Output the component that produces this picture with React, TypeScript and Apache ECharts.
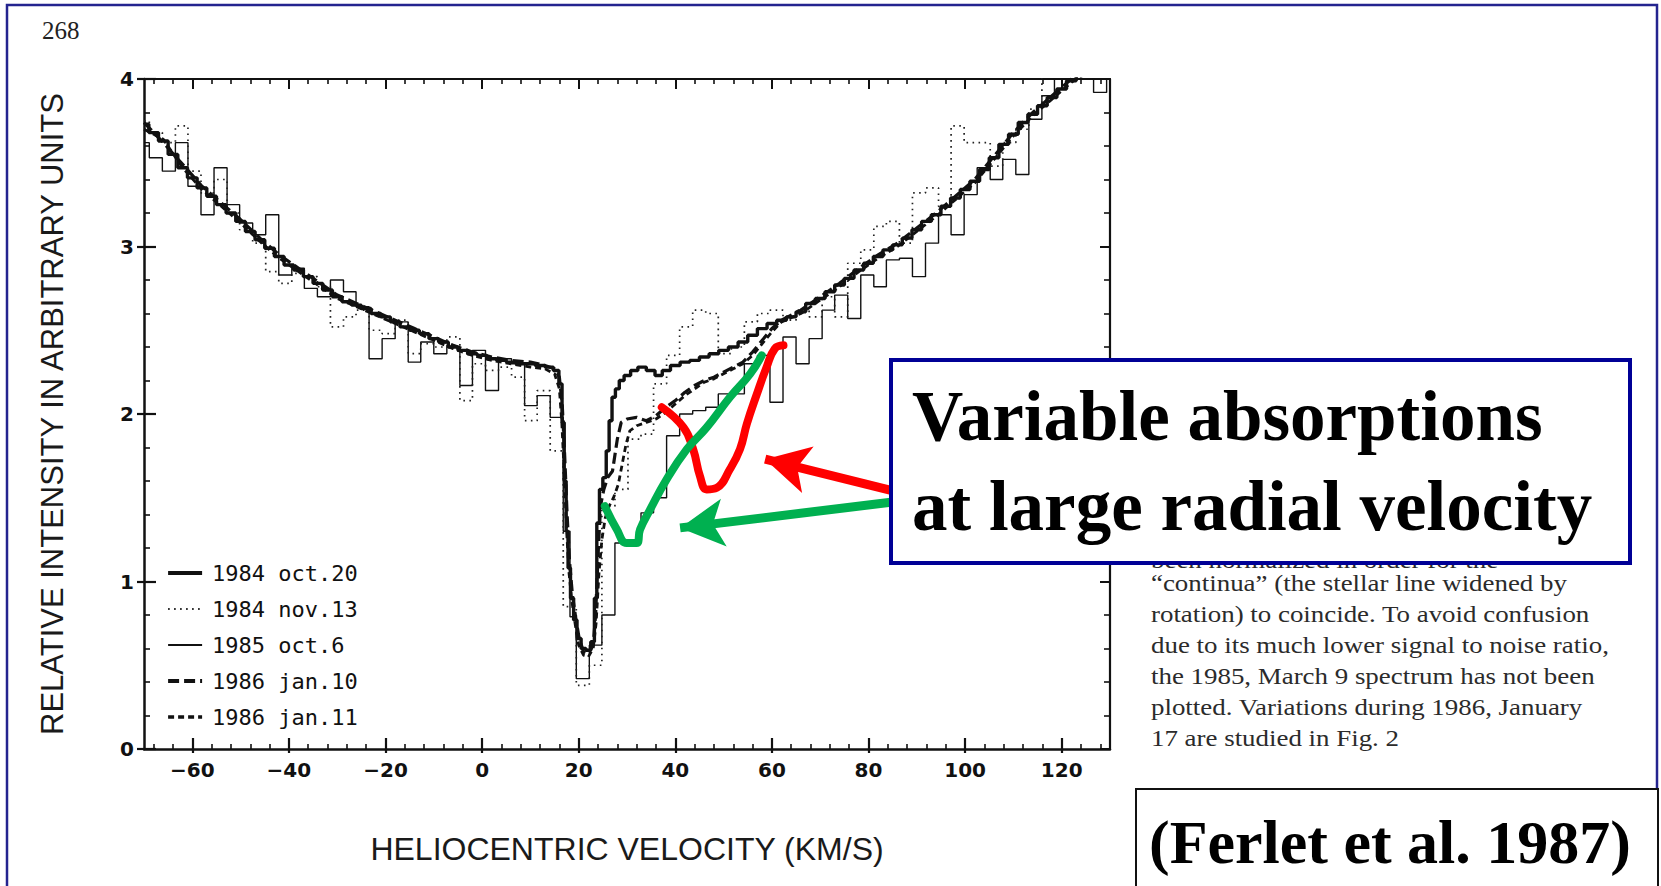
import React, { useEffect, useRef } from 'react';
import * as echarts from 'echarts';

// ---- axis ticks ----
const xMajorTicks = [-60, -40, -20, 0, 20, 40, 60, 80, 100, 120];
const xMinorTicks = [-68, -64, -60, -56, -52, -48, -44, -40, -36, -32, -28, -24, -20, -16, -12, -8, -4, 0, 4, 8, 12, 16, 20, 24, 28, 32, 36, 40, 44, 48, 52, 56, 60, 64, 68, 72, 76, 80, 84, 88, 92, 96, 100, 104, 108, 112, 116, 120, 124, 128];

// ---- spectra: [heliocentric velocity km/s, relative intensity] ----
const oct20_1984: [number, number][] = [
  [-70, 3.73], [-68, 3.68], [-66, 3.63], [-64, 3.55], [-62, 3.47], [-60, 3.41], [-58, 3.35], [-56, 3.30], [-54, 3.25], [-52, 3.20],
  [-50, 3.15], [-48, 3.09], [-46, 3.04], [-44, 2.99], [-42, 2.94], [-40, 2.89], [-38, 2.86], [-36, 2.82], [-34, 2.78], [-32, 2.74],
  [-30, 2.70], [-28, 2.67], [-26, 2.65], [-24, 2.63], [-22, 2.60], [-20, 2.58], [-18, 2.55], [-16, 2.52], [-14, 2.50], [-12, 2.48],
  [-10, 2.45], [-8, 2.43], [-6, 2.40], [-4, 2.38], [-2, 2.36], [0, 2.35], [2, 2.33], [4, 2.32], [6, 2.31], [8, 2.30],
  [10, 2.30], [12, 2.29], [14, 2.28], [15.5, 2.26], [16.3, 2.18], [16.8, 1.95], [17.2, 1.60], [17.6, 1.30], [18.0, 1.08], [18.6, 0.90],
  [19.3, 0.77], [20.0, 0.66], [21, 0.60], [22, 0.59], [23, 0.64], [23.5, 0.90], [24.0, 1.35], [24.6, 1.55], [25.4, 1.62], [26.0, 1.78],
  [26.6, 1.96], [27.2, 2.10], [28, 2.15], [28.8, 2.20], [30, 2.23], [31.5, 2.26], [33, 2.28], [35, 2.26], [36.6, 2.23], [38, 2.26],
  [40, 2.29], [42, 2.31], [44, 2.32], [46, 2.34], [48, 2.36], [50, 2.38], [52, 2.40], [54, 2.43], [56, 2.47], [58, 2.51],
  [60, 2.54], [62, 2.56], [64, 2.58], [66, 2.61], [68, 2.66], [70, 2.69], [72, 2.73], [74, 2.77], [76, 2.81], [78, 2.86],
  [80, 2.90], [82, 2.94], [84, 2.98], [86, 3.01], [88, 3.05], [90, 3.10], [92, 3.15], [94, 3.19], [96, 3.24], [98, 3.29],
  [100, 3.34], [102, 3.39], [104, 3.46], [106, 3.53], [108, 3.61], [110, 3.67], [112, 3.74], [114, 3.79], [116, 3.84], [118, 3.89],
  [120, 3.94], [122, 3.99], [124, 4.03], [126, 4.06],
];

const nov13_1984: [number, number][] = [
  [-70, 3.75], [-68.9, 3.68], [-66.2, 3.62], [-63.5, 3.72], [-60.9, 3.45], [-58.2, 3.32], [-55.5, 3.40], [-52.8, 3.20], [-50.2, 3.10], [-47.5, 3.02],
  [-44.8, 2.85], [-42.1, 2.78], [-39.4, 2.84], [-36.8, 2.82], [-34.1, 2.76], [-31.4, 2.52], [-28.7, 2.58], [-26.1, 2.62], [-23.4, 2.50], [-20.7, 2.48],
  [-18.0, 2.56], [-15.3, 2.36], [-12.7, 2.42], [-10.0, 2.40], [-7.3, 2.46], [-4.6, 2.08], [-2.0, 2.30], [0.7, 2.26], [3.4, 2.28], [6.1, 2.22],
  [8.8, 1.96], [11.4, 2.14], [14.1, 1.78], [16.8, 0.85], [19.5, 0.38], [22.2, 0.50], [24.8, 1.45], [27.5, 1.55], [30.2, 1.85], [32.9, 1.88],
  [35.5, 2.18], [38.2, 2.35], [40.9, 2.52], [43.6, 2.62], [46.3, 2.60], [48.9, 2.36], [51.6, 2.40], [54.3, 2.55], [57.0, 2.60], [59.6, 2.62],
  [62.3, 2.56], [65.0, 2.62], [67.7, 2.58], [70.4, 2.70], [73.0, 2.58], [75.7, 2.90], [78.4, 2.98], [81.1, 3.12], [83.7, 3.15], [86.4, 3.02],
  [89.1, 3.32], [91.8, 3.35], [94.5, 3.24], [97.1, 3.72], [99.8, 3.62], [102.5, 3.62], [105.2, 3.48], [107.8, 3.62], [110.5, 3.70], [113.2, 3.82],
  [115.9, 4.05], [118.5, 4.05], [121.2, 4.05], [123.9, 4.05], [126.6, 4.05], [129.3, 4.05], [130, 4.05],
];

const oct6_1985: [number, number][] = [
  [-70, 3.62], [-68.9, 3.53], [-66.2, 3.45], [-63.5, 3.62], [-60.9, 3.36], [-58.2, 3.19], [-55.5, 3.47], [-52.8, 3.25], [-50.2, 3.14], [-47.5, 3.07],
  [-44.8, 3.19], [-42.1, 2.83], [-39.4, 2.87], [-36.8, 2.75], [-34.1, 2.70], [-31.4, 2.80], [-28.7, 2.73], [-26.1, 2.64], [-23.4, 2.33], [-20.7, 2.45],
  [-18.0, 2.55], [-15.3, 2.31], [-12.7, 2.43], [-10.0, 2.36], [-7.3, 2.40], [-4.6, 2.17], [-2.0, 2.38], [0.7, 2.14], [3.4, 2.33], [6.1, 2.30],
  [8.8, 2.05], [11.4, 2.11], [14.1, 1.98], [16.8, 1.30], [18.2, 0.79], [19.5, 0.42], [22.2, 0.62], [24.8, 0.80], [27.5, 1.23], [30.2, 1.23],
  [32.9, 1.41], [35.5, 1.50], [38.2, 1.87], [40.9, 2.00], [43.6, 2.02], [46.3, 2.04], [48.9, 2.12], [51.6, 2.12], [54.3, 2.30], [57.0, 2.35],
  [59.6, 2.07], [62.3, 2.46], [65.0, 2.30], [67.7, 2.45], [70.4, 2.62], [73.0, 2.71], [75.7, 2.57], [78.4, 2.83], [81.1, 2.76], [83.7, 2.92],
  [86.4, 2.93], [89.1, 2.82], [91.8, 3.02], [94.5, 3.19], [97.1, 3.07], [99.8, 3.31], [102.5, 3.47], [105.2, 3.40], [107.8, 3.52], [110.5, 3.43],
  [113.2, 3.76], [115.9, 3.90], [118.5, 4.05], [121.2, 4.05], [123.9, 4.05], [126.6, 3.92], [129.3, 4.05], [130, 4.05],
];

const jan10_1986: [number, number][] = [
  [-70, 3.74], [-66, 3.62], [-62, 3.49], [-58, 3.36], [-54, 3.26], [-50, 3.16], [-46, 3.05], [-42, 2.95], [-38, 2.87], [-34, 2.79],
  [-30, 2.71], [-26, 2.66], [-22, 2.61], [-18, 2.56], [-14, 2.51], [-10, 2.46], [-6, 2.41], [-2, 2.37], [2, 2.34], [6, 2.32],
  [10, 2.31], [13, 2.29], [15, 2.27], [16, 2.22], [16.6, 2.05], [17.1, 1.75], [17.6, 1.40], [18.1, 1.12], [18.7, 0.92], [19.4, 0.78],
  [20.1, 0.66], [21, 0.58], [22, 0.57], [23, 0.62], [23.5, 0.80], [24, 1.15], [24.5, 1.45], [25.2, 1.55], [26, 1.62], [27, 1.66],
  [28, 1.85], [28.8, 1.95], [30, 1.97], [32, 1.98], [34, 1.96], [36, 1.99], [38, 2.04], [40, 2.08], [42, 2.13], [44, 2.17],
  [46, 2.20], [48, 2.22], [50, 2.25], [52, 2.28], [54, 2.31], [56, 2.37], [58, 2.44], [60, 2.51], [62, 2.56], [66, 2.62],
  [70, 2.70], [74, 2.78], [78, 2.87], [82, 2.95], [86, 3.02], [90, 3.11], [94, 3.20], [98, 3.30], [102, 3.40], [106, 3.54],
  [110, 3.68], [114, 3.80], [118, 3.90], [122, 4.00], [126, 4.06],
];

const jan11_1986: [number, number][] = [
  [-70, 3.70], [-66, 3.64], [-62, 3.47], [-58, 3.34], [-54, 3.24], [-50, 3.14], [-46, 3.03], [-42, 2.93], [-38, 2.85], [-34, 2.77],
  [-30, 2.69], [-26, 2.64], [-22, 2.59], [-18, 2.54], [-14, 2.49], [-10, 2.44], [-6, 2.39], [-2, 2.35], [2, 2.32], [6, 2.30],
  [10, 2.28], [13, 2.27], [15, 2.24], [16, 2.15], [16.5, 1.95], [17, 1.65], [17.5, 1.30], [18, 1.05], [18.6, 0.88], [19.3, 0.74],
  [20, 0.62], [21, 0.56], [22, 0.55], [23, 0.60], [23.6, 0.75], [24.2, 1.05], [24.8, 1.25], [25.5, 1.38], [26.3, 1.45], [27.2, 1.50],
  [28.2, 1.58], [29, 1.70], [29.8, 1.82], [30.6, 1.90], [32, 1.93], [34, 1.95], [36, 1.97], [38, 2.01], [40, 2.06], [42, 2.11],
  [44, 2.15], [46, 2.19], [48, 2.21], [50, 2.24], [52, 2.27], [54, 2.30], [56, 2.35], [58, 2.42], [60, 2.49], [62, 2.55],
  [66, 2.60], [70, 2.68], [74, 2.76], [78, 2.85], [82, 2.93], [86, 3.00], [90, 3.09], [94, 3.18], [98, 3.28], [102, 3.38],
  [106, 3.52], [110, 3.66], [114, 3.78], [118, 3.88], [122, 3.98], [126, 4.05],
];

// ---- hand-drawn annotations (data coordinates) ----
const redMark: [number, number][] = [
  [37.2, 2.04], [41.7, 1.92], [43.7, 1.79], [45.1, 1.63], [46.5, 1.55], [48.6, 1.56], [51.3, 1.67],
  [53.4, 1.79], [54.8, 1.94], [56.9, 2.12], [58.9, 2.28], [60.6, 2.39], [62.4, 2.41],
];
const greenMark: [number, number][] = [
  [25.4, 1.45], [27.9, 1.31], [29.9, 1.23], [32.0, 1.23], [32.7, 1.31], [34.8, 1.43],
  [38.2, 1.61], [42.4, 1.79], [46.5, 1.92], [51.3, 2.10], [55.5, 2.24], [57.9, 2.35],
];
const redArrow: [number, number][] = [[88, 1.52], [58.6, 1.73]];
const greenArrow: [number, number][] = [[88, 1.485], [41.0, 1.32]];

const paragraphLines = [
  'been normalized in order for the',
  '\u201Ccontinua\u201D (the stellar line widened by',
  'rotation) to coincide. To avoid confusion',
  'due to its much lower signal to noise ratio,',
  'the 1985, March 9 spectrum has not been',
  'plotted. Variations during 1986, January',
  '17 are studied in Fig. 2',
];
const paragraphBaselines = [567, 590, 621, 652, 683, 714, 745];

const legendNames = ['1984 oct.20', '1984 nov.13', '1985 oct.6', '1986 jan.10', '1986 jan.11'];
const legendWidths = [4.2, 1.8, 2.2, 4, 3.4];

const INK = '#111';
const fmt = (v: number) => (v < 0 ? '\u2212' + Math.abs(v) : String(v));

const baseX = { type: 'value', min: -70, max: 130, gridIndex: 0, splitLine: { show: false } };
const baseY = { type: 'value', min: 0, max: 4, interval: 1, gridIndex: 0, splitLine: { show: false } };

export default function App() {
  const ref = useRef<HTMLDivElement>(null);
  useEffect(() => {
    if (!ref.current) return;
    const chart = echarts.init(ref.current, null, { renderer: 'svg' });
    const option: any = {
      animation: false,
      backgroundColor: '#ffffff',
      grid: { left: 144, right: 551, top: 79, bottom: 137, containLabel: false },
      legend: {
        data: legendNames.map((n, i) => ({ name: n, lineStyle: { width: legendWidths[i] } })),
        orient: 'vertical',
        left: 161,
        top: 556,
        itemWidth: 34,
        itemHeight: 14,
        itemGap: 12,
        selectedMode: false,
        itemStyle: { opacity: 0 },
        textStyle: { fontFamily: 'DejaVu Sans Mono', fontSize: 22, color: INK, padding: [0, 0, 0, 5], lineHeight: 24 },
      },
      xAxis: [
        {
          ...baseX, position: 'bottom',
          name: 'HELIOCENTRIC VELOCITY (KM/S)', nameLocation: 'middle', nameGap: 84,
          nameTextStyle: { fontFamily: 'Liberation Sans', fontSize: 32, color: '#1a1a1a' },
          axisLine: { show: true, onZero: false, lineStyle: { color: INK, width: 2.5 } },
          axisTick: { show: true, inside: true, length: 11, customValues: xMajorTicks, lineStyle: { color: INK, width: 2.2 } },
          axisLabel: { show: true, customValues: xMajorTicks, formatter: fmt, margin: 11, fontFamily: 'DejaVu Sans', fontWeight: 'bold', fontSize: 20, color: INK },
        },
        {
          ...baseX, position: 'bottom',
          axisLine: { show: false, onZero: false },
          axisTick: { show: true, inside: false, length: 4, customValues: xMajorTicks, lineStyle: { color: INK, width: 2.2 } },
          axisLabel: { show: false },
        },
        {
          ...baseX, position: 'bottom',
          axisLine: { show: false, onZero: false },
          axisTick: { show: true, inside: true, length: 5, customValues: xMinorTicks, lineStyle: { color: INK, width: 1.6 } },
          axisLabel: { show: false },
        },
        {
          ...baseX, position: 'top',
          axisLine: { show: true, onZero: false, lineStyle: { color: INK, width: 2.2 } },
          axisTick: { show: true, inside: true, length: 10, customValues: xMajorTicks, lineStyle: { color: INK, width: 2 } },
          axisLabel: { show: false },
        },
        {
          ...baseX, position: 'top',
          axisLine: { show: false, onZero: false },
          axisTick: { show: true, inside: true, length: 5, customValues: xMinorTicks, lineStyle: { color: INK, width: 1.6 } },
          axisLabel: { show: false },
        },
      ],
      yAxis: [
        {
          ...baseY, position: 'left',
          name: 'RELATIVE INTENSITY IN ARBITRARY UNITS', nameLocation: 'middle', nameGap: 76,
          nameTextStyle: { fontFamily: 'Liberation Sans', fontSize: 31, color: '#1a1a1a' },
          axisLine: { show: true, onZero: false, lineStyle: { color: INK, width: 2.5 } },
          axisTick: { show: true, inside: true, length: 12, lineStyle: { color: INK, width: 2.2 } },
          minorTick: { show: true, splitNumber: 5, length: 6, lineStyle: { color: INK, width: 1.6 } },
          axisLabel: { show: true, margin: 10, fontFamily: 'DejaVu Sans', fontWeight: 'bold', fontSize: 20, color: INK },
        },
        {
          ...baseY, position: 'left',
          axisLine: { show: false, onZero: false },
          axisTick: { show: true, inside: false, length: 7, lineStyle: { color: INK, width: 2.2 } },
          axisLabel: { show: false },
        },
        {
          ...baseY, position: 'right',
          axisLine: { show: true, onZero: false, lineStyle: { color: INK, width: 2.2 } },
          axisTick: { show: true, inside: true, length: 10, lineStyle: { color: INK, width: 2 } },
          minorTick: { show: true, splitNumber: 5, length: 6, lineStyle: { color: INK, width: 1.6 } },
          axisLabel: { show: false },
        },
      ],
      series: [
        {
          name: '1985 oct.6', type: 'line', step: 'end', data: oct6_1985, symbol: 'none', z: 2,
          lineStyle: { color: INK, width: 1.4 }, itemStyle: { color: INK },
        },
        {
          name: '1984 nov.13', type: 'line', step: 'end', data: nov13_1984, symbol: 'none', z: 2,
          lineStyle: { color: '#222', width: 1.7, type: [1.6, 4.4] }, itemStyle: { color: '#222' },
        },
        {
          name: '1986 jan.11', type: 'line', data: jan11_1986, symbol: 'none', z: 3,
          lineStyle: { color: INK, width: 2.8, type: [6, 4] }, itemStyle: { color: INK },
        },
        {
          name: '1986 jan.10', type: 'line', data: jan10_1986, symbol: 'none', z: 3,
          lineStyle: { color: INK, width: 3.2, type: [11, 5] }, itemStyle: { color: INK },
        },
        {
          name: '1984 oct.20', type: 'line', step: 'middle', data: oct20_1984, symbol: 'none', z: 4,
          lineStyle: { color: INK, width: 3.4 }, itemStyle: { color: INK },
        },
        {
          name: 'red mark', type: 'line', data: redMark, smooth: 0.45, symbol: 'none', z: 6,
          lineStyle: { color: '#ff0000', width: 8, cap: 'round', join: 'round' }, itemStyle: { color: '#ff0000' },
          markLine: {
            silent: true, symbol: ['none', 'arrow'], symbolSize: [36, 44], label: { show: false },
            lineStyle: { color: '#ff0000', width: 9, type: 'solid' }, itemStyle: { color: '#ff0000' },
            emphasis: { disabled: true },
            data: [[{ coord: redArrow[0] }, { coord: redArrow[1] }]],
          },
        },
        {
          name: 'green mark', type: 'line', data: greenMark, smooth: 0.45, symbol: 'none', z: 6,
          lineStyle: { color: '#00b050', width: 8, cap: 'round', join: 'round' }, itemStyle: { color: '#00b050' },
          markLine: {
            silent: true, symbol: ['none', 'arrow'], symbolSize: [36, 44], label: { show: false },
            lineStyle: { color: '#00b050', width: 9, type: 'solid' }, itemStyle: { color: '#00b050' },
            emphasis: { disabled: true },
            data: [[{ coord: greenArrow[0] }, { coord: greenArrow[1] }]],
          },
        },
      ],
      graphic: [
        { type: 'rect', z: 100, silent: true, shape: { x: 7, y: 5, width: 1650, height: 920 }, style: { fill: 'none', stroke: '#24248f', lineWidth: 2.5 } },
        { type: 'text', z: 100, silent: true, x: 42, y: 30, style: { text: '268', fontFamily: 'Liberation Serif', fontSize: 25, fill: '#222', align: 'left', verticalAlign: 'middle' } },
        ...paragraphLines.map((t, i) => ({
          type: 'text', z: 100, silent: true, x: 1151, y: paragraphBaselines[i] - 7, scaleX: 1.17,
          style: { text: t, fontFamily: 'Liberation Serif', fontSize: 23, fill: '#2b2b2b', align: 'left', verticalAlign: 'middle' },
        })),
        { type: 'rect', z: 101, silent: true, shape: { x: 891, y: 360, width: 739, height: 203 }, style: { fill: '#ffffff', stroke: '#000096', lineWidth: 4 } },
        { type: 'text', z: 102, silent: true, x: 912, y: 416, style: { text: 'Variable absorptions', fontFamily: 'Liberation Serif', fontWeight: 'bold', fontSize: 71, fill: '#000', align: 'left', verticalAlign: 'middle' } },
        { type: 'text', z: 102, silent: true, x: 912, y: 506, style: { text: 'at large radial velocity', fontFamily: 'Liberation Serif', fontWeight: 'bold', fontSize: 71, fill: '#000', align: 'left', verticalAlign: 'middle' } },
        { type: 'rect', z: 101, silent: true, shape: { x: 1136, y: 789, width: 522, height: 120 }, style: { fill: '#ffffff', stroke: '#111', lineWidth: 2 } },
        { type: 'text', z: 102, silent: true, x: 1149, y: 842, style: { text: '(Ferlet et al. 1987)', fontFamily: 'Liberation Serif', fontWeight: 'bold', fontSize: 62, fill: '#000', align: 'left', verticalAlign: 'middle' } },
      ],
    };
    chart.setOption(option);
    return () => chart.dispose();
  }, []);
  return <div ref={ref} style={{ position: 'fixed', left: 0, top: 0, width: 1661, height: 886 }} />;
}
